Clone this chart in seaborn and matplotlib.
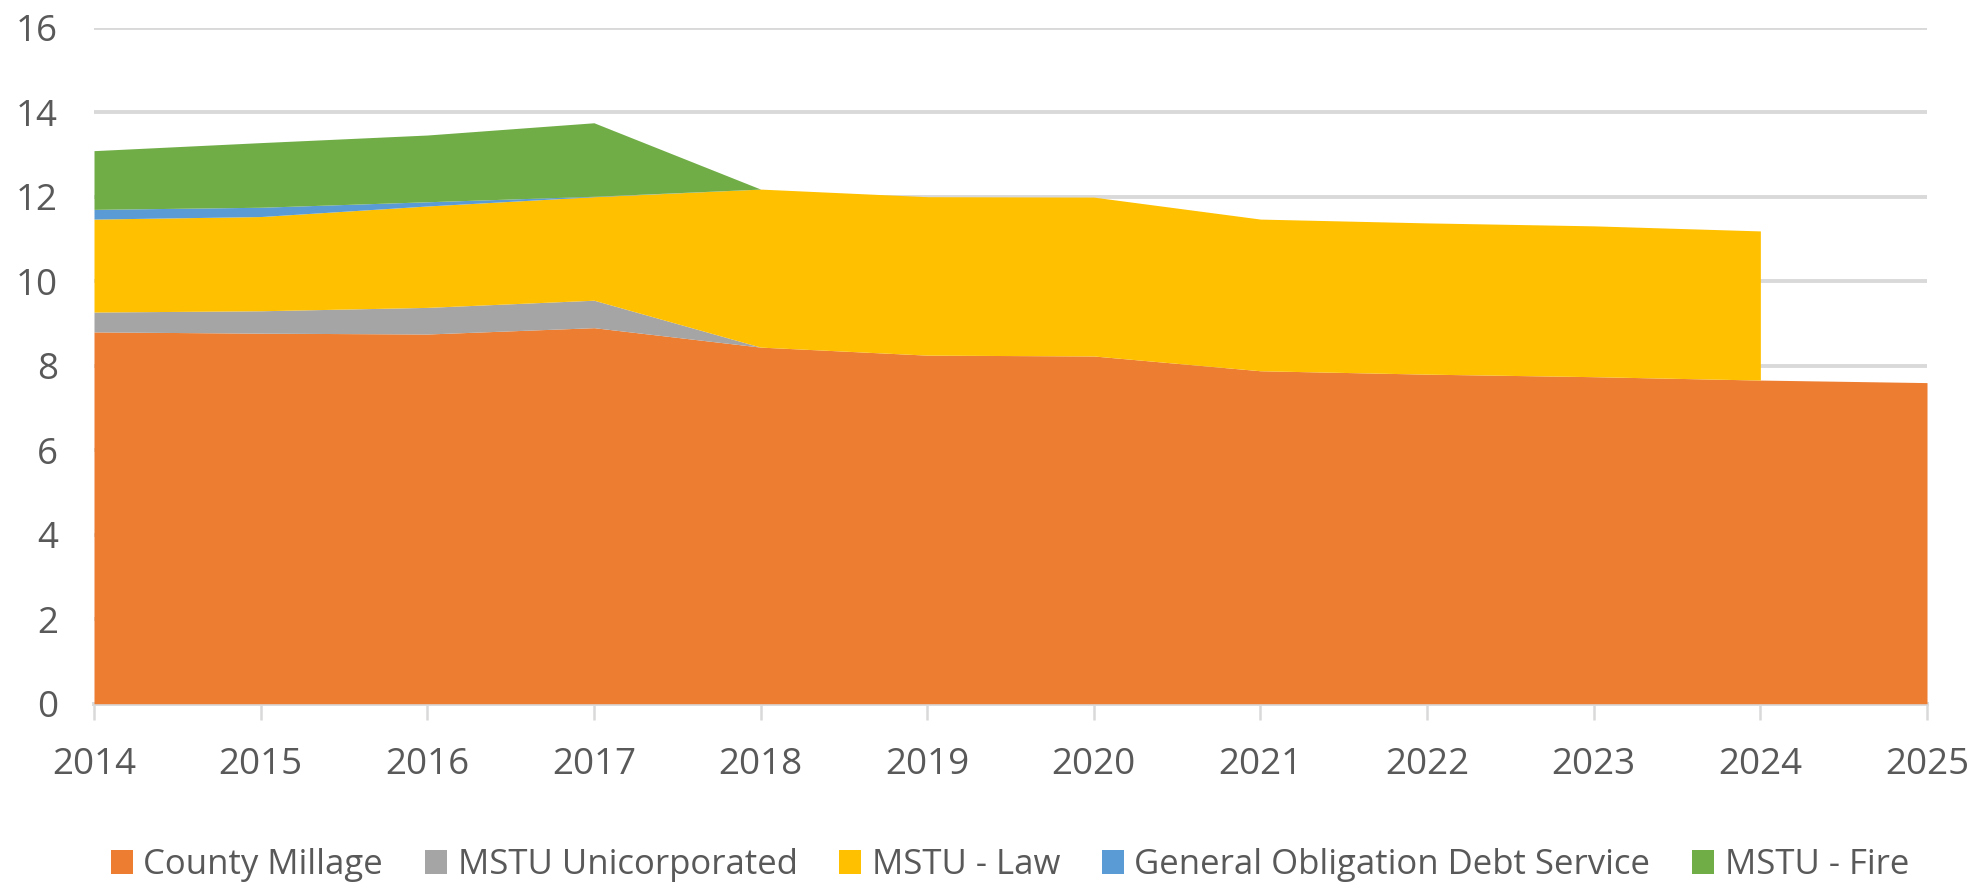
import numpy as np
import pandas as pd
import matplotlib
matplotlib.use("Agg")
import matplotlib.pyplot as plt
import seaborn as sns
from matplotlib.patches import Patch

years = [2014, 2015, 2016, 2017, 2018, 2019, 2020, 2021, 2022, 2023, 2024, 2025]
county_millage = [8.80, 8.77, 8.75, 8.90, 8.44, 8.25, 8.23, 7.88, 7.80, 7.74, 7.66, 7.60]
mstu_unincorporated = [0.47, 0.53, 0.63, 0.65, 0, 0, 0, 0, 0, 0, 0, 0]
mstu_law = [2.20, 2.23, 2.40, 2.45, 3.74, 3.75, 3.76, 3.59, 3.58, 3.57, 3.53, np.nan]
go_debt_service = [0.23, 0.22, 0.10, 0.01, 0, 0, 0, 0, 0, 0, 0, 0]
mstu_fire = [1.39, 1.53, 1.58, 1.74, 0, 0, 0, 0, 0, 0, 0, 0]

series_names = ["County Millage", "MSTU Unicorporated", "MSTU - Law",
                "General Obligation Debt Service", "MSTU - Fire"]
colors = ["#ED7D31", "#A5A5A5", "#FFC000", "#5B9BD5", "#70AD47"]
y_ticks = [0, 2, 4, 6, 8, 10, 12, 14, 16]

df = pd.DataFrame({
    "Year": years,
    series_names[0]: county_millage,
    series_names[1]: mstu_unincorporated,
    series_names[2]: mstu_law,
    series_names[3]: go_debt_service,
    series_names[4]: mstu_fire,
})

sns.set_theme(style="white")
plt.rcParams["font.family"] = ["Open Sans", "DejaVu Sans"]
text_color = "#595959"
grid_color = "#D9D9D9"

fig = plt.figure(figsize=(19.87, 8.90), dpi=100)
ax = fig.add_axes([94 / 1987, 1 - 703.7 / 890, (1927 - 94) / 1987, (703.7 - 27.7) / 890])

base = np.zeros(len(years))
for name, col in zip(series_names, colors):
    vals = df[name].to_numpy(dtype=float)
    top = base + vals
    ax.fill_between(df["Year"], base, top, color=col, linewidth=0, zorder=2)
    base = np.where(np.isnan(top), base, top)

ax.set_xlim(2014, 2025)
ax.set_ylim(0, 16)
ax.set_xticks(years)
ax.set_xticklabels([str(y) for y in years])
ax.set_yticks(y_ticks)
ax.set_yticklabels([str(v) for v in y_ticks])

ax.set_axisbelow(True)
ax.yaxis.grid(True, color=grid_color, linewidth=2.8)
ax.xaxis.grid(False)
sns.despine(ax=ax, left=True, top=True, right=True, bottom=False)
ax.spines["bottom"].set_color(grid_color)
ax.spines["bottom"].set_linewidth(2.8)
ax.spines["bottom"].set_zorder(1)

ax.tick_params(axis="x", direction="out", length=11.5, width=1.8, color=grid_color,
               labelsize=26.5, labelcolor=text_color, pad=20, bottom=True)
ax.tick_params(axis="y", length=0, labelsize=26.5, labelcolor=text_color, pad=26)

handles = [Patch(facecolor=c, edgecolor="none") for c in colors]
fig.legend(handles, series_names, loc="center", bbox_to_anchor=(1010 / 1987, 1 - 865 / 890),
           ncol=5, frameon=False, fontsize=25, labelcolor=text_color,
           handlelength=0.63, handleheight=0.71, handletextpad=0.31, columnspacing=1.2,
           borderaxespad=0, borderpad=0)

fig.savefig("out.png", dpi=100)
